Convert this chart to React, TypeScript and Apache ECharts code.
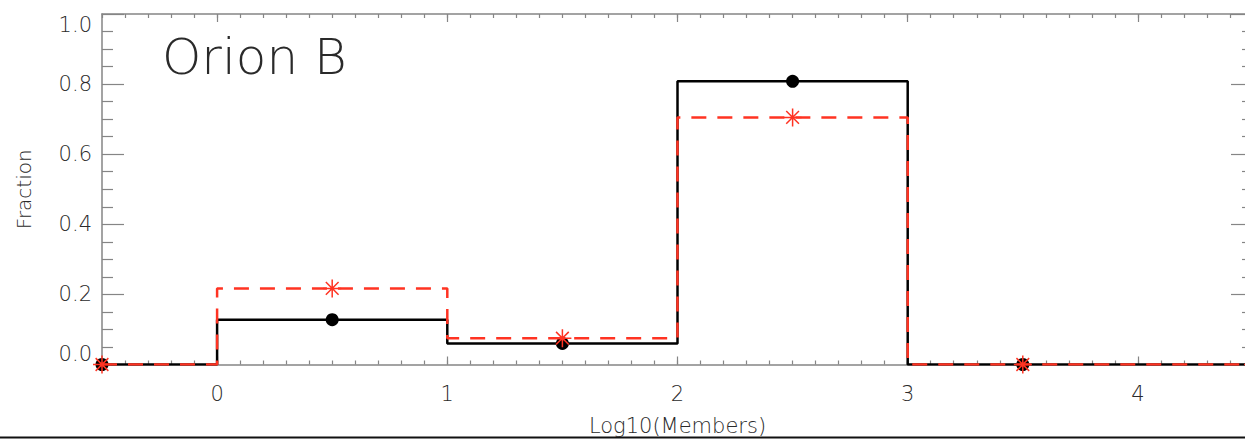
import React, { useEffect, useRef } from "react";
import * as echarts from "echarts";

const binCenters = [-0.5, 0.5, 1.5, 2.5, 3.5, 4.5];
const blackFraction = [0, 0.128, 0.06, 0.808, 0, 0];
const redFraction = [0, 0.217, 0.075, 0.705, 0, 0];
const xMajorTicks = [0, 1, 2, 3, 4];
const titleText = "Orion B";
const xName = "Log10(Members)";
const yName = "Fraction";

const AXIS_GRAY = "#858585";
const TEXT = "#2a2a2a";
const FONT = "DejaVu Sans";
const RED = "#ff3322";
const STAR = "path://M0,-10L0,10M-10,0L10,0M-7.07,-7.07L7.07,7.07M-7.07,7.07L7.07,-7.07";

export default function App() {
  const ref = useRef<HTMLDivElement>(null);
  useEffect(() => {
    if (!ref.current) return;
    const chart = echarts.init(ref.current, null, { renderer: "svg" });
    const xBase = { type: "value", min: -0.5, max: 4.5, splitLine: { show: false } };
    const majorX = (pos: string, labels: boolean, name: boolean) => ({
      ...xBase,
      position: pos,
      axisLine: { show: true, onZero: false, lineStyle: { color: AXIS_GRAY, width: 1.5 } },
      axisTick: { show: true, inside: true, length: 8, customValues: xMajorTicks, lineStyle: { color: AXIS_GRAY, width: 1.2 } },
      axisLabel: {
        show: labels,
        customValues: xMajorTicks,
        margin: 19,
        fontSize: 21,
        fontFamily: FONT,
        fontWeight: 200,
        color: TEXT,
      },
      name: name ? xName : "",
      nameLocation: "middle",
      nameGap: 51,
      nameTextStyle: { fontSize: 21, fontFamily: FONT, fontWeight: 200, color: TEXT },
    });
    const minorX = (pos: string) => ({
      ...xBase,
      position: pos,
      interval: 0.1,
      axisLine: { show: false, onZero: false },
      axisTick: { show: true, inside: true, length: 4, lineStyle: { color: AXIS_GRAY, width: 1.2 } },
      axisLabel: { show: false },
    });
    const yAx = (pos: string, labels: boolean) => ({
      type: "value",
      position: pos,
      min: 0,
      max: 1,
      interval: 0.2,
      splitLine: { show: false },
      axisLine: { show: true, onZero: false, lineStyle: { color: AXIS_GRAY, width: 1.5 } },
      axisTick: { show: true, inside: true, length: 22, lineStyle: { color: AXIS_GRAY, width: 1.2 } },
      minorTick: { show: true, splitNumber: 4, length: 11, lineStyle: { color: AXIS_GRAY, width: 1.2 } },
      axisLabel: {
        show: labels,
        margin: 10,
        fontSize: 21,
        fontFamily: FONT,
        fontWeight: 200,
        color: TEXT,
        formatter: (v: number) => v.toFixed(1),
        verticalAlignMinLabel: "bottom",
        verticalAlignMaxLabel: "top",
      },
      name: labels ? yName : "",
      nameLocation: "middle",
      nameGap: 68,
      nameTextStyle: { fontSize: 20, fontFamily: FONT, fontWeight: 200, color: TEXT },
    });
    chart.setOption({
      animation: false,
      backgroundColor: "#fff",
      grid: { left: 102, right: 12, top: 14, bottom: 75.5, containLabel: false, outerBoundsMode: "none" },
      title: {
        text: titleText,
        left: 157,
        top: 27,
        textStyle: { fontSize: 50, fontFamily: FONT, fontWeight: 200, color: "#2a2a2a" },
      },
      xAxis: [majorX("bottom", true, true), minorX("bottom"), majorX("top", false, false), minorX("top")],
      yAxis: [yAx("left", true), yAx("right", false)],
      graphic: [
        { type: "rect", shape: { x: 0, y: 436.5, width: 1265, height: 2 }, style: { fill: "#111" } },
      ],
      series: [
        {
          type: "line",
          xAxisIndex: 0,
          yAxisIndex: 0,
          step: "middle",
          data: binCenters.map((x, i) => [x, blackFraction[i]]),
          symbol: "circle",
          symbolSize: 13,
          showAllSymbol: true,
          lineStyle: { color: "#000", width: 2.5 },
          itemStyle: { color: "#000" },
          z: 3,
        },
        {
          type: "line",
          xAxisIndex: 0,
          yAxisIndex: 0,
          step: "middle",
          data: binCenters.map((x, i) => [x, redFraction[i]]),
          symbol: STAR,
          symbolSize: 18,
          showAllSymbol: true,
          lineStyle: { color: RED, width: 2.5, type: [15, 11] },
          itemStyle: { color: "none", borderColor: RED, borderWidth: 1.5 },
          z: 4,
        },
      ],
    });
    return () => chart.dispose();
  }, []);
  return (
    <div style={{ position: "fixed", left: 0, top: 0, width: 1245, height: 440, overflow: "hidden", background: "#fff" }}>
      <div ref={ref} style={{ width: 1265, height: 440 }} />
    </div>
  );
}
